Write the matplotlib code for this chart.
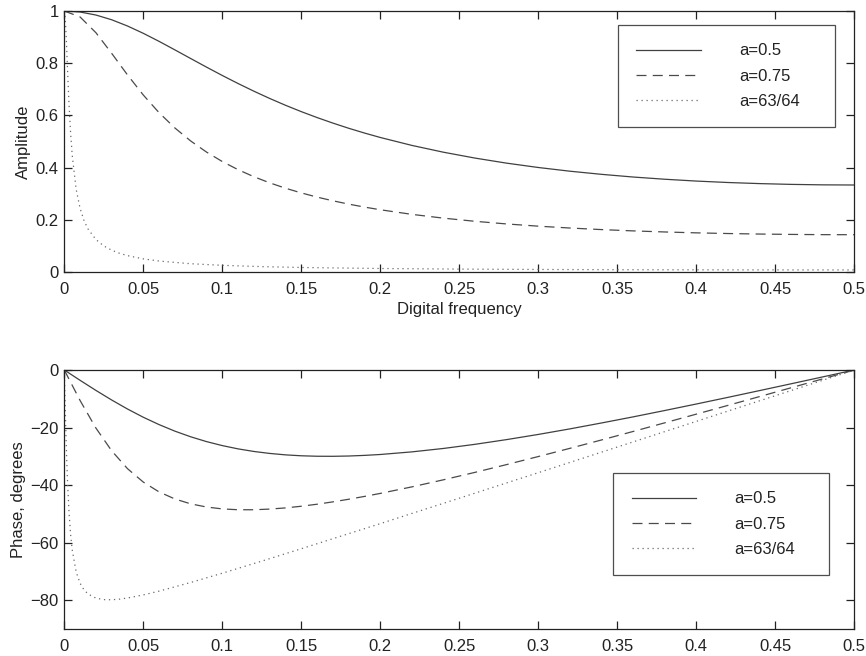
import matplotlib
matplotlib.use("Agg")
import matplotlib.pyplot as plt

plt.rcParams['font.family'] = ['Liberation Sans', 'DejaVu Sans']
plt.rcParams['font.size'] = 12

# Frequency grids
f_std = [0.00, 0.01, 0.02, 0.03, 0.04, 0.05, 0.06, 0.07, 0.08, 0.09, 0.10, 0.11, 0.12,
         0.13, 0.14, 0.15, 0.16, 0.17, 0.18, 0.19, 0.20, 0.22, 0.24, 0.26, 0.28, 0.30,
         0.32, 0.34, 0.36, 0.38, 0.40, 0.42, 0.44, 0.46, 0.48, 0.50]
f_fine = [0.0, 0.0005, 0.001, 0.0015, 0.002, 0.003, 0.004, 0.005, 0.0075, 0.01, 0.0125,
          0.015, 0.02, 0.025, 0.03, 0.035, 0.04, 0.05, 0.06, 0.08, 0.10, 0.125, 0.15,
          0.20, 0.25, 0.30, 0.35, 0.40, 0.45, 0.50]

# Amplitude
amp_05 = [1.0, 0.9961, 0.9846, 0.9664, 0.9425, 0.9145, 0.8836, 0.8510, 0.8179, 0.7850,
          0.7529, 0.7221, 0.6927, 0.6649, 0.6388, 0.6144, 0.5917, 0.5705, 0.5507, 0.5324,
          0.5154, 0.4850, 0.4589, 0.4364, 0.4170, 0.4004, 0.3862, 0.3742, 0.3639, 0.3554,
          0.3484, 0.3429, 0.3387, 0.3357, 0.3339, 0.3333]
amp_075 = [1.0, 0.9771, 0.9169, 0.8377, 0.7551, 0.6781, 0.6102, 0.5518, 0.5020, 0.4595,
           0.4232, 0.3920, 0.3650, 0.3416, 0.3210, 0.3030, 0.2870, 0.2728, 0.2601, 0.2487,
           0.2385, 0.2208, 0.2063, 0.1942, 0.1841, 0.1756, 0.1685, 0.1625, 0.1575, 0.1534,
           0.1500, 0.1474, 0.1454, 0.1440, 0.1431, 0.1429]
amp_6364 = [1.0, 0.9807, 0.9288, 0.8581, 0.7817, 0.6412, 0.5310, 0.4482, 0.3170, 0.2432,
            0.1967, 0.1649, 0.1244, 0.0999, 0.0834, 0.0716, 0.0627, 0.0503, 0.0420, 0.0317,
            0.0255, 0.0206, 0.0173, 0.0134, 0.0111, 0.0097, 0.0088, 0.0083, 0.0080, 0.0079]

# Phase (degrees)
ph_05 = [0.0, -3.59, -7.09, -10.43, -13.56, -16.42, -18.98, -21.25, -23.21, -24.88,
         -26.27, -27.41, -28.31, -28.99, -29.49, -29.81, -29.97, -29.99, -29.89, -29.67,
         -29.36, -28.45, -27.26, -25.82, -24.18, -22.39, -20.46, -18.41, -16.29, -14.08,
         -11.82, -9.51, -7.16, -4.79, -2.40, 0.0]
ph_075 = [0.0, -10.61, -20.17, -28.09, -34.29, -38.95, -42.37, -44.82, -46.51, -47.61,
          -48.27, -48.56, -48.56, -48.33, -47.92, -47.34, -46.64, -45.82, -44.91, -43.93,
          -42.88, -40.61, -38.15, -35.56, -32.86, -30.07, -27.22, -24.31, -21.36, -18.36,
          -15.34, -12.30, -9.24, -6.17, -3.09, 0.0]
ph_6364 = [0.0, -11.19, -21.57, -30.63, -38.23, -49.58, -57.21, -62.48, -70.17, -74.13,
           -76.42, -77.82, -79.27, -79.79, -79.84, -79.62, -79.23, -78.15, -76.84, -73.84,
           -70.61, -66.41, -62.11, -53.38, -44.55, -35.68, -26.77, -17.85, -8.93, 0.0]

labels = ['a=0.5', 'a=0.75', 'a=63/64']
x_ticks = [0, 0.05, 0.1, 0.15, 0.2, 0.25, 0.3, 0.35, 0.4, 0.45, 0.5]
x_ticklabels = ['0', '0.05', '0.1', '0.15', '0.2', '0.25', '0.3', '0.35', '0.4', '0.45', '0.5']
amp_ticks = [0, 0.2, 0.4, 0.6, 0.8, 1]
amp_ticklabels = ['0', '0.2', '0.4', '0.6', '0.8', '1']
ph_ticks = [-80, -60, -40, -20, 0]
ph_ticklabels = ['\u221280', '\u221260', '\u221240', '\u221220', '0']

fig = plt.figure(figsize=(8.66, 6.56), dpi=100)
ax1 = fig.add_axes([64.3 / 866, 1 - 272 / 656, 790 / 866, 261 / 656])
ax2 = fig.add_axes([64.3 / 866, 1 - 629 / 656, 790 / 866, 259 / 656])

styles = [dict(color='#404040', lw=0.9, ls='-'),
          dict(color='#4a4a4a', lw=0.9, ls=(0, (8, 5))),
          dict(color='#6a6a6a', lw=0.9, ls=(0, (1, 3)))]

for ax, series, xs in [(ax1, [amp_05, amp_075, amp_6364], [f_std, f_std, f_fine]),
                       (ax2, [ph_05, ph_075, ph_6364], [f_std, f_std, f_fine])]:
    for y, x, st, lab in zip(series, xs, styles, labels):
        ax.plot(x, y, label=lab, **st)
    ax.set_xlim(0, 0.5)
    ax.set_xticks(x_ticks)
    ax.set_xticklabels(x_ticklabels)
    ax.tick_params(direction='in', top=True, right=True, length=6, width=0.9,
                   colors='#222222', labelsize=12)
    ax.tick_params(axis='x', pad=7.5)
    ax.tick_params(axis='y', pad=4)
    for s in ax.spines.values():
        s.set_color('#222222')
        s.set_linewidth(0.9)

ax1.set_ylim(0, 1)
ax1.set_yticks(amp_ticks)
ax1.set_yticklabels(amp_ticklabels)
ax1.set_ylabel('Amplitude', color='#222222', labelpad=3)
ax1.set_xlabel('Digital frequency', color='#222222', labelpad=3)

ax2.set_ylim(-90, 0)
ax2.set_yticks(ph_ticks)
ax2.set_yticklabels(ph_ticklabels)
ax2.set_ylabel('Phase, degrees', color='#222222', labelpad=3)

leg_kw = dict(loc='upper left', mode='expand', frameon=True, fancybox=False,
              handlelength=3.85, handletextpad=2.3, labelspacing=0.62, borderpad=1.1,
              borderaxespad=0, fontsize=12)
l1 = ax1.legend(bbox_to_anchor=(0.701, 0.946, 0.275, 0.0), **leg_kw)
l2 = ax2.legend(bbox_to_anchor=(0.695, 0.602, 0.273, 0.0), **leg_kw)
for lg in (l1, l2):
    fr = lg.get_frame()
    fr.set_edgecolor('#222222')
    fr.set_linewidth(0.9)
    for t in lg.get_texts():
        t.set_color('#222222')

fig.savefig('out.png', dpi=100)
